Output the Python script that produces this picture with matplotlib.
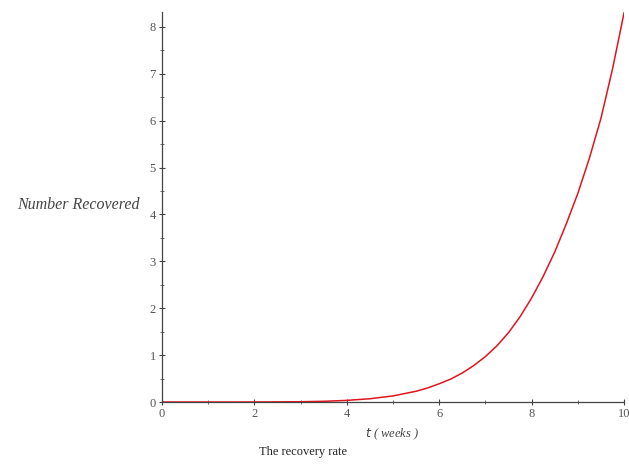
import numpy as np
import matplotlib.pyplot as plt

# values
weeks = [0, 1, 2, 3, 3.5, 4, 4.5, 5, 5.25, 5.5, 5.75, 6, 6.25, 6.5, 6.75,
         7, 7.25, 7.5, 7.75, 8, 8.25, 8.5, 8.75, 9, 9.25, 9.5, 9.75, 10]
recovered = [0, 0.0, 0.001, 0.006, 0.015, 0.035, 0.07, 0.13, 0.18, 0.23,
             0.30, 0.39, 0.49, 0.62, 0.78, 0.97, 1.2, 1.48, 1.82, 2.22,
             2.68, 3.2, 3.8, 4.45, 5.2, 6.05, 7.1, 8.3]

plt.rcParams['font.family'] = ['Liberation Serif', 'DejaVu Serif']

fig = plt.figure(figsize=(6.29, 4.66), dpi=100)
ax = fig.add_axes([0.2576, 0.1373, 0.7345, 0.8370])

ax.plot(weeks, recovered, color='#e0141e', lw=1.1)

ax.set_xlim(0, 10)
ax.set_ylim(0, 8.32)
ax.spines['top'].set_visible(False)
ax.spines['right'].set_visible(False)
for s in ['left', 'bottom']:
    ax.spines[s].set_color('#444444')
    ax.spines[s].set_linewidth(0.9)

ax.set_xticks([0, 2, 4, 6, 8, 10])
ax.set_xticks(np.arange(0, 10.1, 1), minor=True)
ax.set_yticks(range(0, 9))
ax.set_yticks(np.arange(0, 8.3, 0.5), minor=True)
ax.tick_params(which='major', direction='inout', length=5, width=0.8,
               colors='#444444', labelsize=9, labelcolor='#555555', pad=2)
ax.tick_params(which='minor', direction='inout', length=3, width=0.6,
               colors='#555555')

# y label sits horizontally left of the tick labels
fig.text(0.2226, 0.560, 'Number Recovered', ha='right', va='center',
         fontsize=11.5, style='italic', color='#444444')
fig.text(0.623, 0.069, r'$t$ ( weeks )', ha='center', va='center',
         fontsize=9, style='italic', color='#444444')
fig.text(0.482, 0.030, 'The recovery rate', ha='center', va='center',
         fontsize=9, color='#222222')

fig.savefig('out.png', dpi=100)
